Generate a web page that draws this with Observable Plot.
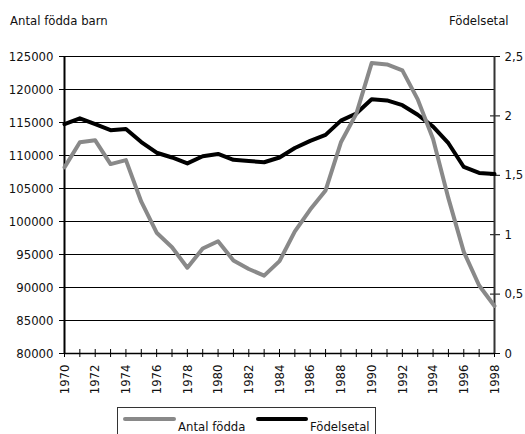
<!DOCTYPE html>
<html><head><meta charset="utf-8">
<script src="https://cdn.jsdelivr.net/npm/d3@7"></script>
<script src="https://cdn.jsdelivr.net/npm/@observablehq/plot@0.6"></script>
<style>
body{margin:0;background:#fff;}
#wrap{position:relative;width:525px;height:434px;overflow:hidden;font-family:"DejaVu Sans Condensed","Liberation Sans Narrow",sans-serif;color:#111;}
.t{position:absolute;font-size:13px;white-space:nowrap;}
#legend{position:absolute;left:117px;top:407px;width:259px;height:40px;border:1px solid #333;box-sizing:border-box;}
.sw{position:absolute;height:4px;border-radius:2px;top:9px;}
.lt{position:absolute;top:11px;font-size:13px;white-space:nowrap;}
</style></head><body>
<div id="wrap">
  <div class="t" style="left:10px;top:13px;">Antal födda barn</div>
  <div class="t" style="left:449px;top:13px;">Födelsetal</div>
  <div id="legend">
    <div class="sw" style="left:5px;width:53px;background:#898989;"></div>
    <div class="lt" style="left:60px;">Antal födda</div>
    <div class="sw" style="left:138px;width:52px;background:#000;"></div>
    <div class="lt" style="left:192px;">Födelsetal</div>
  </div>
</div>
<script>
const years = [1970,1971,1972,1973,1974,1975,1976,1977,1978,1979,1980,1981,1982,1983,1984,1985,1986,1987,1988,1989,1990,1991,1992,1993,1994,1995,1996,1997,1998];
const antalFodda = [108200,112000,112300,108700,109300,103000,98300,96100,93000,95900,97000,94100,92800,91800,94000,98500,101800,104700,112000,116300,124000,123800,122900,118500,112500,103500,95400,90300,87200];
const fodelsetal = [1.93,1.98,1.93,1.88,1.89,1.78,1.69,1.65,1.60,1.66,1.68,1.63,1.62,1.61,1.65,1.73,1.79,1.84,1.96,2.02,2.14,2.13,2.09,2.01,1.91,1.77,1.57,1.52,1.51];
const leftTicks = [80000,85000,90000,95000,100000,105000,110000,115000,120000,125000];
const rightTicks = [0,0.5,1,1.5,2,2.5];
const rightTickLabels = ["0","0,5","1","1,5","2","2,5"];
const yearLabels = [1970,1972,1974,1976,1978,1980,1982,1984,1986,1988,1990,1992,1994,1996,1998];

const yMin = 80000, yMax = 125000, rMax = 2.5;
const toLeft = v => yMin + v * (yMax - yMin) / rMax;

const data = years.map((y, i) => ({year: y, antal: antalFodda[i], fodsel: fodelsetal[i]}));

const chart = Plot.plot({
  width: 525,
  height: 434,
  marginLeft: 64,
  marginRight: 31,
  marginTop: 56,
  marginBottom: 81,
  style: {fontFamily: '"DejaVu Sans Condensed","Liberation Sans Narrow",sans-serif', fontSize: "13px", color: "#111", background: "transparent"},
  x: {domain: [1970, 1998], axis: null},
  y: {domain: [yMin, yMax], axis: null},
  marks: [
    Plot.ruleY(leftTicks, {stroke: "#000", strokeWidth: 1}),
    Plot.axisY({ticks: leftTicks, anchor: "left", label: null, tickSize: 5, tickPadding: 6, tickFormat: d => String(d), stroke: "#000"}),
    Plot.axisY({ticks: rightTicks.map(toLeft), anchor: "right", label: null, tickSize: 10, dx: -5, tickPadding: 5,
      tickFormat: d => rightTickLabels[rightTicks.findIndex(v => Math.abs(toLeft(v) - d) < 1e-6)], stroke: "#000"}),
    Plot.axisX({ticks: years, anchor: "bottom", label: null, tickSize: 8, dy: -4, tickFormat: () => "", stroke: "#000"}),
    Plot.axisX({ticks: yearLabels, anchor: "bottom", label: null, tickSize: 0, tickPadding: 11, tickRotate: -90, tickFormat: d => String(d)}),
    Plot.ruleX([1970], {stroke: "#000", strokeWidth: 2}),
    Plot.ruleX([1998], {stroke: "#333", strokeWidth: 2}),
    Plot.ruleY([yMin], {stroke: "#000", strokeWidth: 1.5}),
    Plot.line(data, {x: "year", y: d => toLeft(d.fodsel), stroke: "#000", strokeWidth: 4, strokeLinejoin: "round"}),
    Plot.line(data, {x: "year", y: "antal", stroke: "#898989", strokeWidth: 4, strokeLinejoin: "round"})
  ]
});
chart.style.position = "absolute";
chart.style.left = "0";
chart.style.top = "0";
document.getElementById("wrap").prepend(chart);
</script>
</body></html>
